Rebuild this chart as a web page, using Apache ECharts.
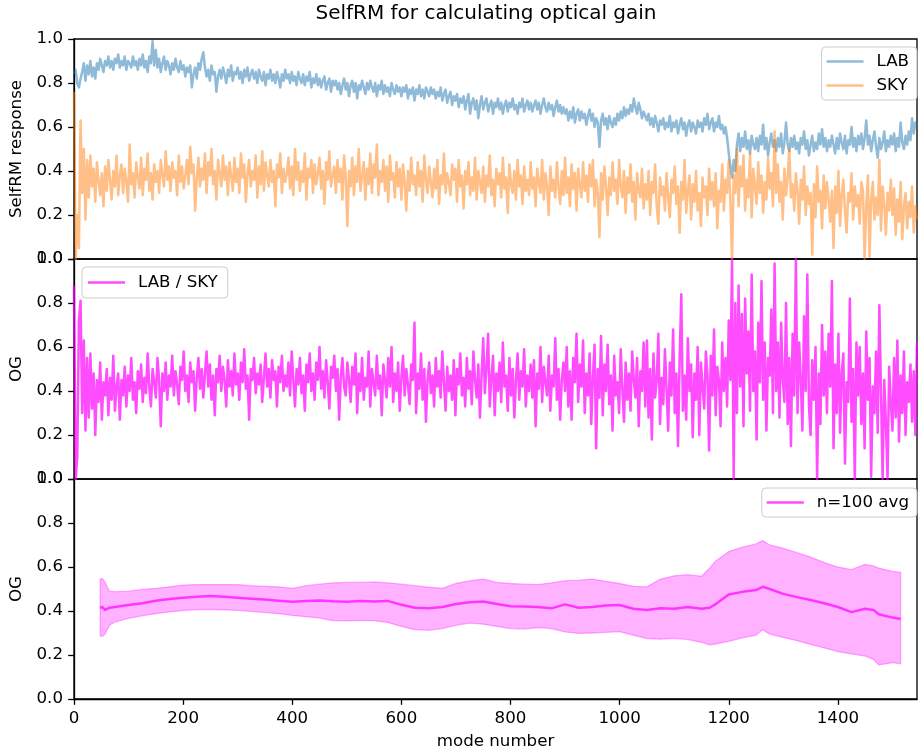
<!DOCTYPE html>
<html><head><meta charset="utf-8">
<script src="https://cdn.jsdelivr.net/npm/echarts@6/dist/echarts.min.js"></script>
<style>html,body{margin:0;padding:0;background:#fff}#c{width:918px;height:752px}</style>
</head><body><div id="c"></div>
<script>
// sampling step of the hand-read traces (mode number spacing)
const modeStep = 3;

// LAB SelfRM response (top panel, blue)
const labValues = [
0.84,0.86,0.80,0.78,0.82,0.85,0.89,0.81,0.88,0.84,
0.90,0.83,0.87,0.82,0.89,0.86,0.91,0.88,0.85,0.90,
0.88,0.92,0.87,0.90,0.86,0.91,0.89,0.93,0.87,0.90,
0.88,0.92,0.86,0.90,0.89,0.87,0.92,0.88,0.90,0.86,
0.91,0.88,0.93,0.87,0.90,0.85,0.92,0.89,0.99,0.88,
0.95,0.87,0.91,0.85,0.89,0.92,0.86,0.90,0.88,0.84,
0.89,0.86,0.91,0.87,0.85,0.90,0.86,0.88,0.83,0.87,
0.85,0.88,0.78,0.84,0.87,0.82,0.89,0.86,0.91,0.94,
0.87,0.83,0.86,0.81,0.88,0.84,0.85,0.76,0.83,0.86,
0.82,0.87,0.84,0.80,0.86,0.83,0.88,0.81,0.85,0.84,
0.87,0.82,0.85,0.80,0.86,0.83,0.87,0.81,0.84,0.86,
0.82,0.85,0.80,0.86,0.83,0.81,0.85,0.79,0.84,0.82,
0.86,0.81,0.84,0.80,0.85,0.82,0.78,0.84,0.81,0.86,
0.82,0.84,0.80,0.85,0.81,0.83,0.79,0.85,0.82,0.80,
0.84,0.79,0.83,0.81,0.85,0.78,0.82,0.80,0.84,0.79,
0.82,0.78,0.81,0.83,0.77,0.80,0.82,0.76,0.81,0.79,
0.81,0.77,0.80,0.75,0.79,0.82,0.77,0.80,0.74,0.79,
0.81,0.76,0.80,0.73,0.79,0.77,0.81,0.78,0.75,0.80,
0.77,0.81,0.78,0.76,0.80,0.74,0.79,0.77,0.81,0.75,
0.79,0.76,0.78,0.74,0.80,0.77,0.75,0.79,0.76,0.78,
0.74,0.78,0.76,0.79,0.73,0.77,0.75,0.78,0.72,0.77,
0.75,0.79,0.74,0.77,0.73,0.78,0.76,0.74,0.78,0.75,
0.77,0.73,0.76,0.74,0.78,0.72,0.75,0.77,0.71,0.74,
0.76,0.70,0.74,0.72,0.75,0.69,0.73,0.71,0.74,0.68,
0.72,0.75,0.66,0.71,0.73,0.68,0.72,0.64,0.70,0.74,
0.68,0.71,0.73,0.67,0.70,0.72,0.66,0.71,0.69,0.73,
0.68,0.71,0.66,0.70,0.72,0.67,0.71,0.69,0.73,0.68,
0.70,0.66,0.71,0.69,0.73,0.67,0.70,0.72,0.68,0.71,
0.67,0.70,0.72,0.68,0.71,0.66,0.70,0.73,0.69,0.67,
0.71,0.68,0.70,0.65,0.69,0.72,0.67,0.70,0.66,0.69,
0.66,0.68,0.63,0.67,0.64,0.69,0.62,0.66,0.68,0.63,
0.67,0.64,0.66,0.61,0.65,0.68,0.63,0.66,0.60,0.64,
0.62,0.51,0.63,0.66,0.61,0.64,0.59,0.65,0.62,0.60,
0.64,0.61,0.66,0.63,0.67,0.64,0.69,0.65,0.68,0.66,
0.70,0.67,0.73,0.69,0.66,0.71,0.68,0.64,0.67,0.65,
0.63,0.66,0.61,0.64,0.60,0.65,0.62,0.58,0.63,0.61,
0.64,0.59,0.62,0.60,0.65,0.58,0.62,0.60,0.63,0.57,
0.61,0.64,0.59,0.62,0.56,0.61,0.63,0.58,0.62,0.60,
0.57,0.63,0.60,0.62,0.58,0.64,0.61,0.66,0.59,0.62,
0.64,0.58,0.62,0.60,0.65,0.59,0.61,0.57,0.60,0.55,
0.48,0.42,0.37,0.45,0.40,0.52,0.57,0.49,0.55,0.51,
0.58,0.50,0.54,0.48,0.56,0.52,0.50,0.55,0.49,0.56,
0.52,0.61,0.50,0.55,0.47,0.53,0.57,0.51,0.54,0.49,
0.55,0.51,0.57,0.48,0.53,0.62,0.52,0.49,0.55,0.51,
0.56,0.50,0.53,0.48,0.55,0.52,0.58,0.50,0.54,0.47,
0.52,0.56,0.49,0.53,0.50,0.57,0.52,0.59,0.51,0.55,
0.49,0.54,0.51,0.56,0.52,0.48,0.55,0.50,0.57,0.53,
0.50,0.56,0.48,0.54,0.52,0.60,0.51,0.55,0.49,0.56,
0.52,0.57,0.50,0.55,0.63,0.52,0.56,0.49,0.54,0.58,
0.51,0.46,0.55,0.50,0.53,0.58,0.49,0.54,0.51,0.56,
0.52,0.57,0.49,0.55,0.51,0.62,0.53,0.50,0.56,0.52,
0.58,0.54,0.64,0.57,0.62,0.60
];

// SKY SelfRM response (top panel, orange)
const skyValues = [
0.76,0.00,0.20,0.05,0.63,0.30,0.50,0.18,0.45,0.28,
0.47,0.33,0.41,0.26,0.44,0.35,0.29,0.39,0.24,0.42,
0.31,0.45,0.36,0.27,0.40,0.33,0.47,0.29,0.38,0.43,
0.30,0.41,0.35,0.26,0.52,0.34,0.39,0.28,0.44,0.37,
0.32,0.46,0.29,0.41,0.36,0.48,0.31,0.39,0.27,0.43,
0.35,0.40,0.30,0.45,0.38,0.33,0.49,0.36,0.42,0.31,
0.44,0.37,0.40,0.29,0.47,0.35,0.42,0.32,0.38,0.45,
0.34,0.51,0.39,0.43,0.22,0.37,0.46,0.33,0.41,0.36,
0.48,0.30,0.44,0.38,0.50,0.34,0.40,0.27,0.45,0.39,
0.33,0.47,0.36,0.42,0.29,0.44,0.38,0.31,0.46,0.35,
0.41,0.30,0.48,0.37,0.43,0.26,0.39,0.45,0.33,0.40,
0.36,0.47,0.28,0.42,0.34,0.49,0.31,0.44,0.38,0.33,
0.45,0.35,0.40,0.24,0.43,0.37,0.48,0.30,0.41,0.35,
0.39,0.46,0.32,0.42,0.29,0.50,0.36,0.44,0.31,0.40,
0.35,0.48,0.27,0.41,0.37,0.45,0.30,0.43,0.34,0.39,
0.46,0.32,0.40,0.25,0.44,0.36,0.49,0.33,0.38,0.42,
0.30,0.45,0.35,0.41,0.27,0.47,0.37,0.15,0.40,0.33,
0.46,0.29,0.42,0.35,0.50,0.31,0.38,0.44,0.27,0.41,
0.34,0.48,0.30,0.43,0.37,0.52,0.29,0.40,0.35,0.45,
0.31,0.42,0.26,0.47,0.36,0.39,0.28,0.44,0.33,0.41,
0.27,0.43,0.35,0.22,0.40,0.31,0.46,0.34,0.38,0.29,
0.44,0.33,0.40,0.26,0.47,0.36,0.30,0.42,0.35,0.28,
0.41,0.32,0.45,0.25,0.38,0.34,0.48,0.30,0.39,0.35,
0.29,0.43,0.36,0.41,0.26,0.45,0.33,0.38,0.23,0.40,
0.34,0.44,0.29,0.37,0.31,0.46,0.27,0.40,0.35,0.30,
0.42,0.26,0.38,0.33,0.47,0.29,0.36,0.24,0.41,0.34,
0.39,0.28,0.46,0.32,0.37,0.21,0.43,0.34,0.30,0.40,
0.27,0.45,0.33,0.38,0.25,0.42,0.31,0.36,0.29,0.44,
0.32,0.37,0.24,0.41,0.35,0.30,0.45,0.27,0.39,0.33,
0.20,0.42,0.31,0.36,0.28,0.44,0.33,0.25,0.40,0.29,
0.46,0.30,0.37,0.24,0.43,0.32,0.39,0.22,0.41,0.34,
0.28,0.44,0.31,0.38,0.26,0.43,0.33,0.45,0.24,0.36,
0.30,0.10,0.39,0.27,0.42,0.33,0.20,0.37,0.29,0.44,
0.31,0.36,0.25,0.45,0.33,0.28,0.40,0.21,0.37,0.30,
0.43,0.26,0.35,0.18,0.39,0.31,0.28,0.41,0.23,0.34,
0.27,0.40,0.20,0.35,0.30,0.43,0.24,0.16,0.37,0.29,
0.33,0.22,0.39,0.28,0.19,0.36,0.30,0.42,0.25,0.33,
0.12,0.35,0.27,0.45,0.21,0.31,0.38,0.18,0.34,0.26,
0.40,0.22,0.30,0.15,0.37,0.28,0.33,0.20,0.41,0.27,
0.35,0.24,0.39,0.14,0.31,0.26,0.43,0.22,0.36,0.30,
0.45,0.26,0.00,0.38,0.30,0.50,0.24,0.42,0.33,0.47,
0.22,0.36,0.28,0.48,0.19,0.41,0.33,0.25,0.44,0.30,
0.38,0.21,0.35,0.27,0.46,0.32,0.39,0.24,0.58,0.30,
0.43,0.26,0.35,0.18,0.41,0.29,0.37,0.50,0.28,0.34,
0.22,0.39,0.31,0.16,0.36,0.27,0.42,0.20,0.33,0.25,
0.30,0.02,0.34,0.19,0.42,0.26,0.31,0.14,0.38,0.23,
0.35,0.27,0.17,0.31,0.05,0.33,0.21,0.40,0.15,0.29,
0.36,0.22,0.12,0.30,0.26,0.39,0.18,0.33,0.24,0.29,
0.16,0.35,0.31,0.00,0.24,0.38,0.01,0.27,0.35,0.18,
0.28,0.20,0.45,0.13,0.33,0.25,0.11,0.30,0.22,0.36,
0.20,0.32,0.11,0.27,0.17,0.35,0.09,0.24,0.30,0.14,
0.26,0.19,0.33,0.12,0.24,0.18
];

// LAB / SKY optical gain (middle panel)
const ogValues = [
0.88,0.00,0.10,0.72,0.81,0.30,0.63,0.22,0.55,0.28,
0.57,0.32,0.48,0.20,0.45,0.35,0.53,0.27,0.44,0.38,
0.50,0.29,0.46,0.36,0.56,0.31,0.42,0.48,0.27,0.45,
0.38,0.51,0.33,0.47,0.40,0.55,0.36,0.44,0.30,0.49,
0.41,0.52,0.35,0.46,0.39,0.57,0.42,0.33,0.50,0.44,
0.37,0.55,0.45,0.24,0.48,0.40,0.53,0.36,0.47,0.42,
0.56,0.38,0.49,0.43,0.34,0.51,0.45,0.58,0.40,0.47,
0.35,0.53,0.44,0.49,0.31,0.46,0.55,0.41,0.50,0.37,
0.48,0.58,0.42,0.52,0.36,0.47,0.29,0.50,0.44,0.56,
0.40,0.51,0.45,0.33,0.54,0.42,0.49,0.38,0.57,0.43,
0.48,0.36,0.53,0.44,0.59,0.41,0.47,0.27,0.50,0.45,
0.55,0.39,0.48,0.43,0.52,0.35,0.46,0.57,0.42,0.50,
0.37,0.54,0.45,0.49,0.33,0.51,0.44,0.56,0.40,0.47,
0.42,0.53,0.38,0.58,0.45,0.33,0.50,0.43,0.55,0.39,
0.47,0.31,0.52,0.44,0.57,0.40,0.48,0.36,0.53,0.45,
0.60,0.41,0.49,0.37,0.54,0.44,0.32,0.51,0.46,0.56,
0.40,0.50,0.27,0.47,0.55,0.42,0.38,0.53,0.45,0.35,
0.51,0.43,0.57,0.30,0.48,0.40,0.55,0.36,0.46,0.42,
0.58,0.33,0.50,0.44,0.38,0.56,0.41,0.47,0.29,0.52,
0.45,0.37,0.55,0.42,0.60,0.35,0.48,0.40,0.53,0.31,
0.46,0.56,0.38,0.50,0.43,0.34,0.52,0.45,0.71,0.30,
0.48,0.41,0.57,0.36,0.50,0.26,0.45,0.53,0.39,0.47,
0.33,0.55,0.42,0.49,0.37,0.58,0.44,0.31,0.51,0.40,
0.47,0.36,0.54,0.29,0.50,0.43,0.57,0.38,0.46,0.33,
0.55,0.41,0.49,0.34,0.58,0.45,0.37,0.52,0.28,0.47,
0.64,0.39,0.51,0.66,0.33,0.46,0.56,0.29,0.48,0.40,
0.53,0.35,0.62,0.42,0.47,0.31,0.55,0.38,0.50,0.28,
0.45,0.57,0.36,0.49,0.42,0.59,0.33,0.47,0.40,0.52,
0.37,0.54,0.24,0.48,0.41,0.60,0.35,0.51,0.44,0.38,
0.56,0.31,0.47,0.42,0.64,0.36,0.50,0.27,0.45,0.53,
0.40,0.60,0.33,0.49,0.27,0.55,0.44,0.66,0.35,0.52,
0.42,0.63,0.30,0.48,0.38,0.57,0.25,0.46,0.61,0.14,
0.50,0.37,0.65,0.29,0.52,0.40,0.61,0.34,0.47,0.22,
0.56,0.38,0.44,0.30,0.59,0.41,0.26,0.53,0.36,0.48,
0.31,0.58,0.45,0.37,0.55,0.24,0.49,0.40,0.62,0.33,
0.63,0.28,0.50,0.18,0.57,0.37,0.45,0.66,0.25,0.46,
0.34,0.59,0.41,0.22,0.53,0.38,0.68,0.30,0.48,0.15,
0.55,0.84,0.31,0.47,0.27,0.64,0.40,0.52,0.19,0.48,
0.36,0.60,0.20,0.53,0.42,0.32,0.58,0.47,0.13,0.56,
0.38,0.68,0.29,0.51,0.45,0.24,0.62,0.40,0.55,0.33,
0.72,0.45,1.00,0.00,0.80,0.30,0.88,0.42,0.75,0.24,
0.82,0.48,0.67,0.31,0.93,0.40,0.58,0.18,0.71,0.44,
0.90,0.36,0.62,0.22,0.55,0.47,0.77,0.30,0.98,0.40,
0.62,0.28,0.71,0.45,0.35,0.80,0.25,0.55,0.15,0.66,
0.38,1.00,0.30,0.62,0.45,0.22,0.74,0.40,0.93,0.33,
0.20,0.54,0.36,0.60,0.00,0.48,0.25,0.70,0.38,0.58,
0.30,0.66,0.42,0.90,0.14,0.52,0.30,0.66,0.21,0.48,
0.57,0.07,0.44,0.35,0.82,0.26,0.50,0.00,0.62,0.38,
0.60,0.25,0.48,0.14,0.67,0.36,0.55,0.01,0.42,0.30,
0.58,0.21,0.79,0.40,0.00,0.45,0.26,0.00,0.51,0.35,
0.22,0.55,0.28,0.63,0.17,0.47,0.30,0.58,0.20,0.44,
0.35,0.52,0.26,0.49,0.20,0.62
];

// n=100 running average and its spread band (bottom panel)
const avgModes = [48,52,57,65,75,100,125,150,175,200,225,250,275,300,325,350,375,400,425,450,475,500,525,550,575,600,625,650,675,700,725,750,775,800,825,850,875,900,925,950,975,1000,1025,1050,1075,1100,1125,1150,1165,1175,1200,1225,1250,1262,1275,1300,1325,1350,1375,1400,1425,1450,1465,1475,1500,1515];
const avgValues = [0.415,0.418,0.405,0.415,0.418,0.427,0.435,0.447,0.455,0.46,0.465,0.468,0.465,0.46,0.456,0.452,0.447,0.442,0.445,0.448,0.444,0.442,0.445,0.443,0.446,0.428,0.415,0.413,0.418,0.432,0.44,0.443,0.432,0.422,0.42,0.418,0.412,0.43,0.415,0.418,0.425,0.427,0.41,0.405,0.412,0.41,0.418,0.41,0.415,0.43,0.475,0.487,0.495,0.51,0.5,0.478,0.463,0.45,0.435,0.418,0.395,0.41,0.405,0.385,0.37,0.364];
const bandHigh = [0.545,0.548,0.53,0.49,0.488,0.49,0.498,0.503,0.51,0.518,0.52,0.52,0.52,0.52,0.515,0.512,0.51,0.503,0.515,0.522,0.528,0.53,0.53,0.532,0.528,0.522,0.515,0.508,0.503,0.525,0.537,0.545,0.53,0.525,0.522,0.52,0.528,0.538,0.54,0.545,0.535,0.525,0.512,0.51,0.545,0.56,0.565,0.558,0.595,0.625,0.67,0.69,0.705,0.72,0.7,0.685,0.665,0.645,0.62,0.6,0.588,0.612,0.605,0.595,0.58,0.576];
const bandLow = [0.286,0.285,0.295,0.335,0.35,0.367,0.378,0.388,0.396,0.402,0.406,0.407,0.405,0.403,0.398,0.393,0.388,0.38,0.374,0.368,0.356,0.355,0.357,0.356,0.348,0.33,0.315,0.312,0.32,0.335,0.345,0.34,0.33,0.32,0.318,0.325,0.32,0.305,0.298,0.3,0.303,0.306,0.29,0.275,0.272,0.276,0.27,0.258,0.245,0.25,0.262,0.278,0.29,0.315,0.295,0.28,0.265,0.248,0.232,0.215,0.205,0.195,0.18,0.155,0.165,0.16];

const xTicks = [0,200,400,600,800,1000,1200,1400];
const yTicks = [0,0.2,0.4,0.6,0.8,1.0];

const modes = labValues.map((_, i) => i * modeStep);
const pair = (xs, ys) => ys.map((v, i) => [xs[i], v]);

const FONT = 'DejaVu Sans';
const FS = 16.67;
const L = 74, W = 843, H = 220, tops = [39, 259, 479];
const BLUE = 'rgba(31,119,180,0.5)', ORANGE = 'rgba(255,127,14,0.5)', MAG = 'rgba(255,0,255,0.7)';

const grids = tops.map(t => ({left: L, top: t, width: W, height: H, show: true,
  borderColor: '#000', borderWidth: 1.3, backgroundColor: 'transparent'}));

const xAxes = [0,1,2].map(i => ({
  type: 'value', gridIndex: i, min: 0, max: 1545,
  axisLine: {show: i === 2, lineStyle: {color: '#000', width: 1.3}},
  axisTick: {show: i === 2, length: 5.8, customValues: xTicks, lineStyle: {color: '#000', width: 1.3}},
  axisLabel: {show: i === 2, customValues: xTicks, margin: 11, color: '#000', fontFamily: FONT, fontSize: FS,
    formatter: v => String(v)},
  splitLine: {show: false},
  name: i === 2 ? 'mode number' : '', nameLocation: 'middle', nameGap: 34,
  nameTextStyle: {color: '#000', fontFamily: FONT, fontSize: FS}
}));

const yNames = ['SelfRM response', 'OG', 'OG'];
const yAxes = [0,1,2].map(i => ({
  type: 'value', gridIndex: i, min: 0, max: 1,
  axisLine: {show: true, lineStyle: {color: '#000', width: 1.3}},
  axisTick: {show: true, length: 5.8, customValues: yTicks, lineStyle: {color: '#000', width: 1.3}},
  axisLabel: {show: true, customValues: yTicks, margin: 11, color: '#000', fontFamily: FONT, fontSize: FS,
    formatter: v => Number(v).toFixed(1)},
  splitLine: {show: false},
  name: yNames[i], nameLocation: 'middle', nameGap: 45, nameRotate: 90,
  nameTextStyle: {color: '#000', fontFamily: FONT, fontSize: FS}
}));

function line(name, gi, data, color, width) {
  return {name, type: 'line', xAxisIndex: gi, yAxisIndex: gi, data, symbol: 'none', showSymbol: false,
    color, itemStyle: {color}, lineStyle: {color, width, join: 'round'}, clip: true, animation: false, silent: true};
}

const bandSeries = {
  name: 'band', type: 'custom', xAxisIndex: 2, yAxisIndex: 2, silent: true, clip: true, z: 1,
  data: [[avgModes[0], avgValues[0]]],
  renderItem: (params, api) => {
    const pts = [];
    for (let i = 0; i < avgModes.length; i++) pts.push(api.coord([avgModes[i], bandHigh[i]]));
    for (let i = avgModes.length - 1; i >= 0; i--) pts.push(api.coord([avgModes[i], bandLow[i]]));
    return {type: 'polygon', shape: {points: pts},
      style: {fill: 'rgba(255,0,255,0.3)', stroke: 'rgba(255,0,255,0.3)', lineWidth: 1.3}};
  }
};

const series = [
  line('LAB', 0, pair(modes, labValues), BLUE, 2.5),
  line('SKY', 0, pair(modes, skyValues), ORANGE, 2.5),
  line('LAB / SKY', 1, pair(modes, ogValues), MAG, 2.5),
  bandSeries,
  Object.assign(line('n=100 avg', 2, pair(avgModes, avgValues), MAG, 2.5), {z: 3})
];

const legendBase = {orient: 'vertical', icon: 'rect', itemWidth: 37, itemHeight: 2.5, itemGap: 7,
  borderColor: '#cccccc', borderWidth: 1, borderRadius: 4, backgroundColor: 'rgba(255,255,255,0.8)',
  textStyle: {color: '#000', fontFamily: FONT, fontSize: FS, padding: [0, 0, 0, 8]}, selectedMode: false};

const option = {
  animation: false,
  backgroundColor: '#fff',
  grid: grids, xAxis: xAxes, yAxis: yAxes, series,
  legend: [
    Object.assign({}, legendBase, {data: ['LAB', 'SKY'], right: 1, top: 47, padding: [6, 8, 6, 5]}),
    Object.assign({}, legendBase, {data: ['LAB / SKY'], left: 82, top: 267, padding: [7, 10, 7, 6]}),
    Object.assign({}, legendBase, {data: ['n=100 avg'], right: 1, top: 488, padding: [6, 8, 6, 5]})
  ],
  graphic: [{type: 'text', x: 486, y: 14, style: {text: 'SelfRM for calculating optical gain',
    font: '20px "DejaVu Sans"', fill: '#000', textAlign: 'center', textVerticalAlign: 'middle'}}]
};

const chart = echarts.init(document.getElementById('c'), null, {renderer: 'canvas'});
chart.setOption(option);
</script>
</body></html>
